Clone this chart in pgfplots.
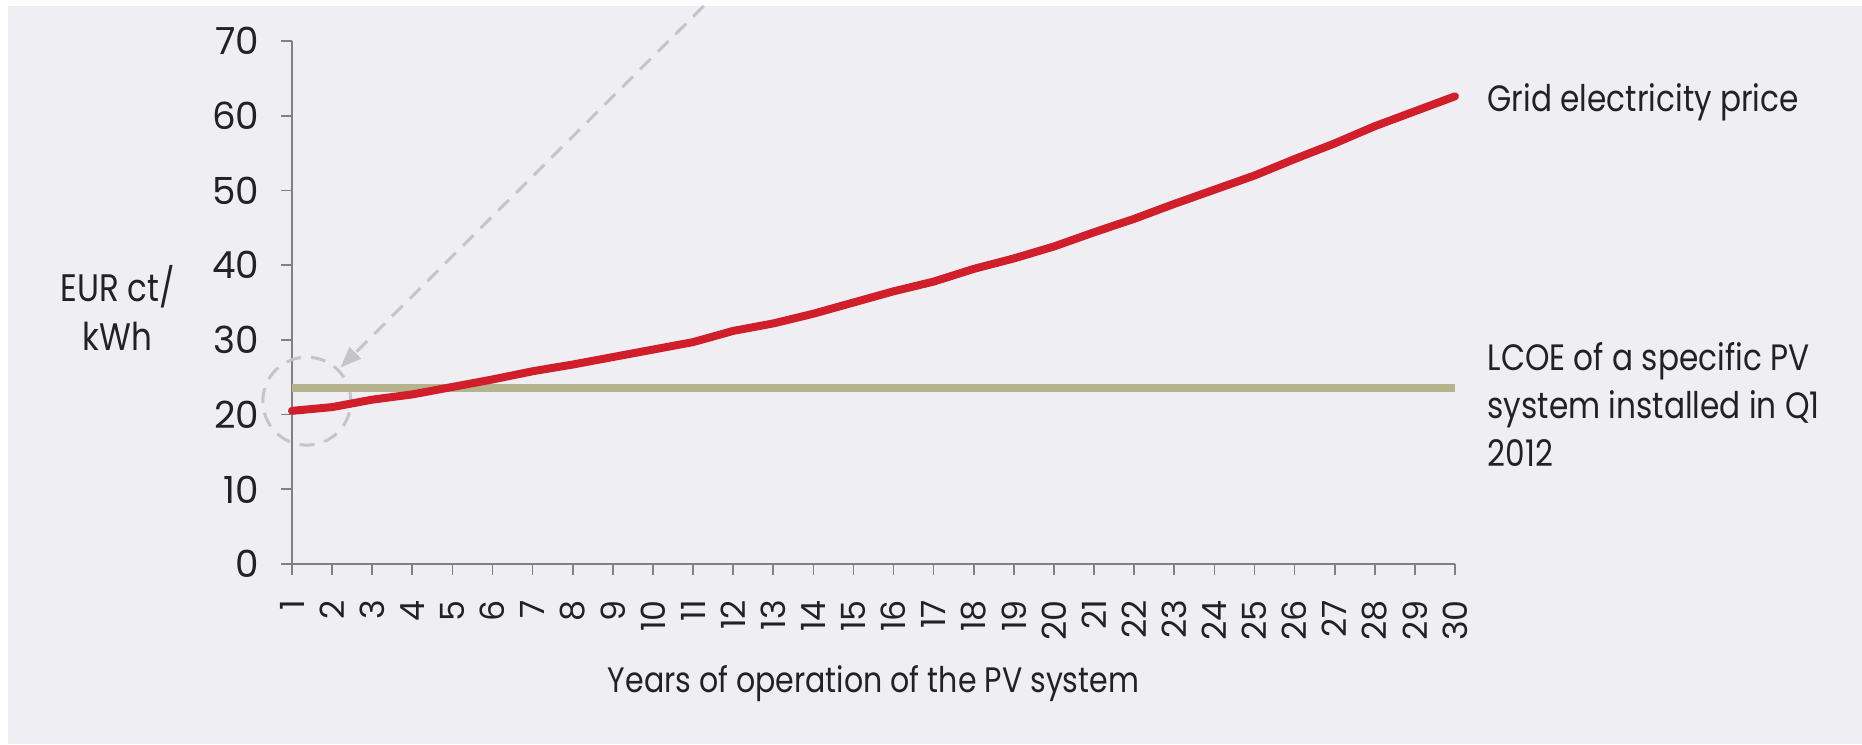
\documentclass[border=0pt]{standalone}
\usepackage{fontspec}
\setmainfont{Poppins}[FakeStretch=0.85]
\newfontfamily\tickfont{Poppins}
\usepackage{pgfplots}
\usepackage{pgfplotstable}
\pgfplotsset{compat=1.18}
\usetikzlibrary{arrows.meta}

\definecolor{bg}{RGB}{239,239,243}
\definecolor{gridred}{RGB}{208,30,42}
\definecolor{lcoe}{RGB}{181,178,142}
\definecolor{axgray}{RGB}{128,128,128}
\definecolor{annot}{RGB}{196,196,201}
\definecolor{txt}{RGB}{34,34,34}

% grid electricity price, EUR ct/kWh, per year of operation
\pgfplotstableread{
year price
1  20.5
2  21.0
3  22.0
4  22.7
5  23.7
6  24.7
7  25.8
8  26.7
9  27.7
10 28.7
11 29.7
12 31.2
13 32.2
14 33.5
15 35.0
16 36.5
17 37.8
18 39.5
19 40.9
20 42.5
21 44.4
22 46.2
23 48.2
24 50.1
25 52.0
26 54.2
27 56.3
28 58.6
29 60.6
30 62.6
}\gridprice

\begin{document}
\begin{tikzpicture}
\path[use as bounding box] (0,0) rectangle (558.6pt,223.2pt);
\fill[white] (0,0) rectangle (558.6pt,223.2pt);
\fill[bg] (2.4pt,0) rectangle (558.6pt,221.4pt);
\begin{axis}[
  at={(87.6pt,54pt)}, anchor=south west,
  scale only axis, width=348.9pt, height=156.9pt,
  xmin=1, xmax=30, ymin=0, ymax=70,
  clip=false,
  axis x line*=bottom, axis y line*=left,
  axis line style={axgray, line width=0.5pt},
  xtick={1,...,30}, ytick={0,10,...,70},
  tick align=outside, major tick length=3.3pt,
  tick style={axgray, line width=0.5pt},
  /pgf/number format/assume math mode=true,
  % rotated labels: xshift moves them down, away from the axis
  x tick label style={rotate=90, anchor=east, xshift=-4pt, text=txt,
    font=\tickfont\fontsize{10}{12}\selectfont},
  y tick label style={text=txt, xshift=-3pt,
    font=\tickfont\fontsize{11.2}{13}\selectfont},
  xlabel={Years of operation of the PV system},
  xlabel style={at={(axis description cs:0.5,-0.228)}, anchor=center,
    text=txt, font=\fontsize{10.6}{13}\selectfont},
  ylabel={EUR ct/\\kWh},
  ylabel style={rotate=-90, at={(axis description cs:-0.15,0.49)},
    anchor=center, align=center, text=txt,
    font=\fontsize{11.5}{14.7}\selectfont},
]
% annotation: circle round year 1 and dashed arrow
\draw[annot, line width=0.9pt, dash pattern=on 4.5pt off 3pt]
  (axis cs:1.37,21.8) circle[radius=13.2pt];
\draw[annot, line width=0.9pt, dash pattern=on 4.5pt off 3pt,
  -{Triangle[length=6.3pt,width=4.8pt]}]
  (axis cs:11.27,74.7) -- (axis cs:2.21,26.3);

\addplot[lcoe, line width=2.4pt] coordinates {(1,23.5) (30,23.5)};
\addplot[gridred, line width=2.4pt, line join=round, line cap=round]
  table[x=year, y=price] {\gridprice};

\node[anchor=west, text=txt, font=\fontsize{11}{13}\selectfont]
  at (axis cs:30.52,61.8) {Grid electricity price};
\node[anchor=west, align=left, text=txt, font=\fontsize{11}{14.4}\selectfont]
  at (axis cs:30.52,21.4) {LCOE of a specific PV\\system installed in Q1\\2012};
\end{axis}
\end{tikzpicture}
\end{document}
